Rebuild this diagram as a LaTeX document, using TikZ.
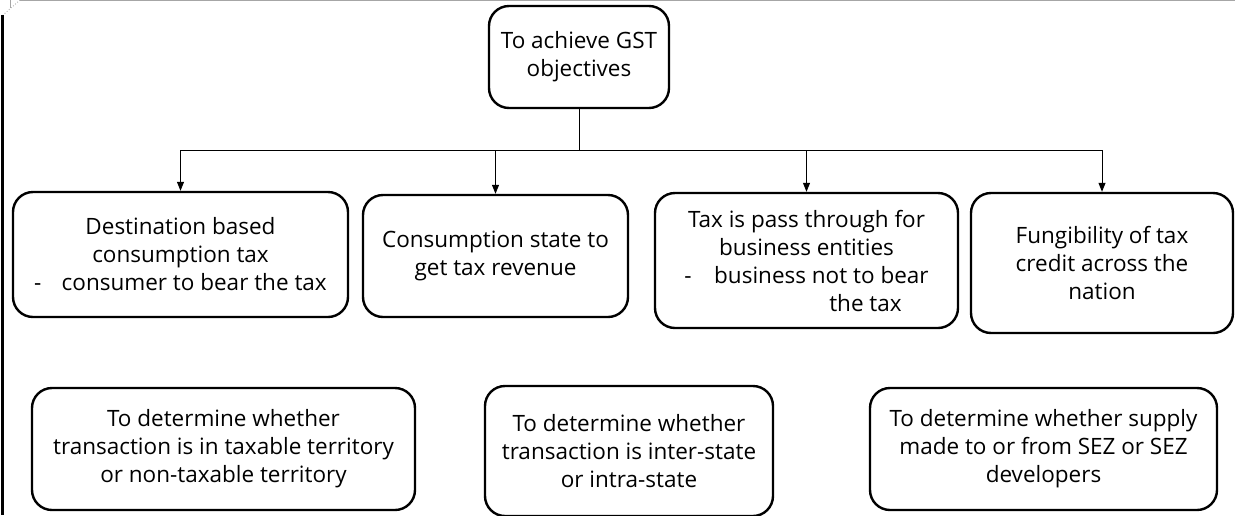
\documentclass[tikz,border=0pt]{standalone}
\usepackage{fontspec}
\setmainfont{Open Sans}
\usetikzlibrary{arrows.meta}

\begin{document}
\begin{tikzpicture}[x=1pt, y=-1pt,
        box/.style={draw, line width=2.4pt, rounded corners=20pt, align=center,
            inner sep=0pt, font=\fontsize{22.5}{28}\selectfont},
        link/.style={line width=1pt, -{Triangle[length=9pt, width=7pt]}}]
            \useasboundingbox (0,0) rectangle (1235,515);

            % page edge
            \draw[gray!70, line width=1pt] (20,0.5)--(1235,0.5);
            \draw[gray!70, line width=0.8pt, dotted] (20,0)--(3,15);
            \draw[gray!70, line width=0.8pt] (10,0)--(10,8);
            \draw[line width=3pt] (2.5,15)--(2.5,515);

            \node[box, minimum width=180pt, minimum height=102pt] (goal) at (579,57)
                {To achieve GST\\objectives};

            \node[box, minimum width=335pt, minimum height=125pt] (dest) at (180.5,254.5)
                {Destination based\\consumption tax\\-\hspace{0.9em}consumer to bear the tax};
            \node[box, minimum width=265pt, minimum height=122pt] (state) at (495.5,256)
                {Consumption state to\\get tax revenue};
            \node[box, minimum width=303pt, minimum height=135pt] (pass) at (806.5,260.5)
                {Tax is pass through for\\business entities\\-\hspace{1em}business not to bear\\\hspace*{118pt}the tax};
            \node[box, minimum width=262pt, minimum height=140pt] (fung) at (1102,263)
                {Fungibility of tax\\credit across the\\nation};

            % second row
            \node[box, minimum width=383pt, minimum height=122pt] (terr) at (223.5,449)
                {To determine whether\\transaction is in taxable territory\\or non-taxable territory};
            \node[box, minimum width=288pt, minimum height=130pt] (inter) at (629,451)
                {To determine whether\\transaction is inter-state\\or intra-state};
            \node[box, minimum width=347pt, minimum height=122pt] (sez) at (1043.5,449)
                {To determine whether supply\\made to or from SEZ or SEZ\\developers};

            % connectors
            \coordinate (split) at (goal.south |- 0,150);
            \draw[line width=1pt] (goal)--(split);
            \foreach \n in {dest,state,pass,fung}
                \draw[link] (split) -| (\n.north);
        \end{tikzpicture}
\end{document}
